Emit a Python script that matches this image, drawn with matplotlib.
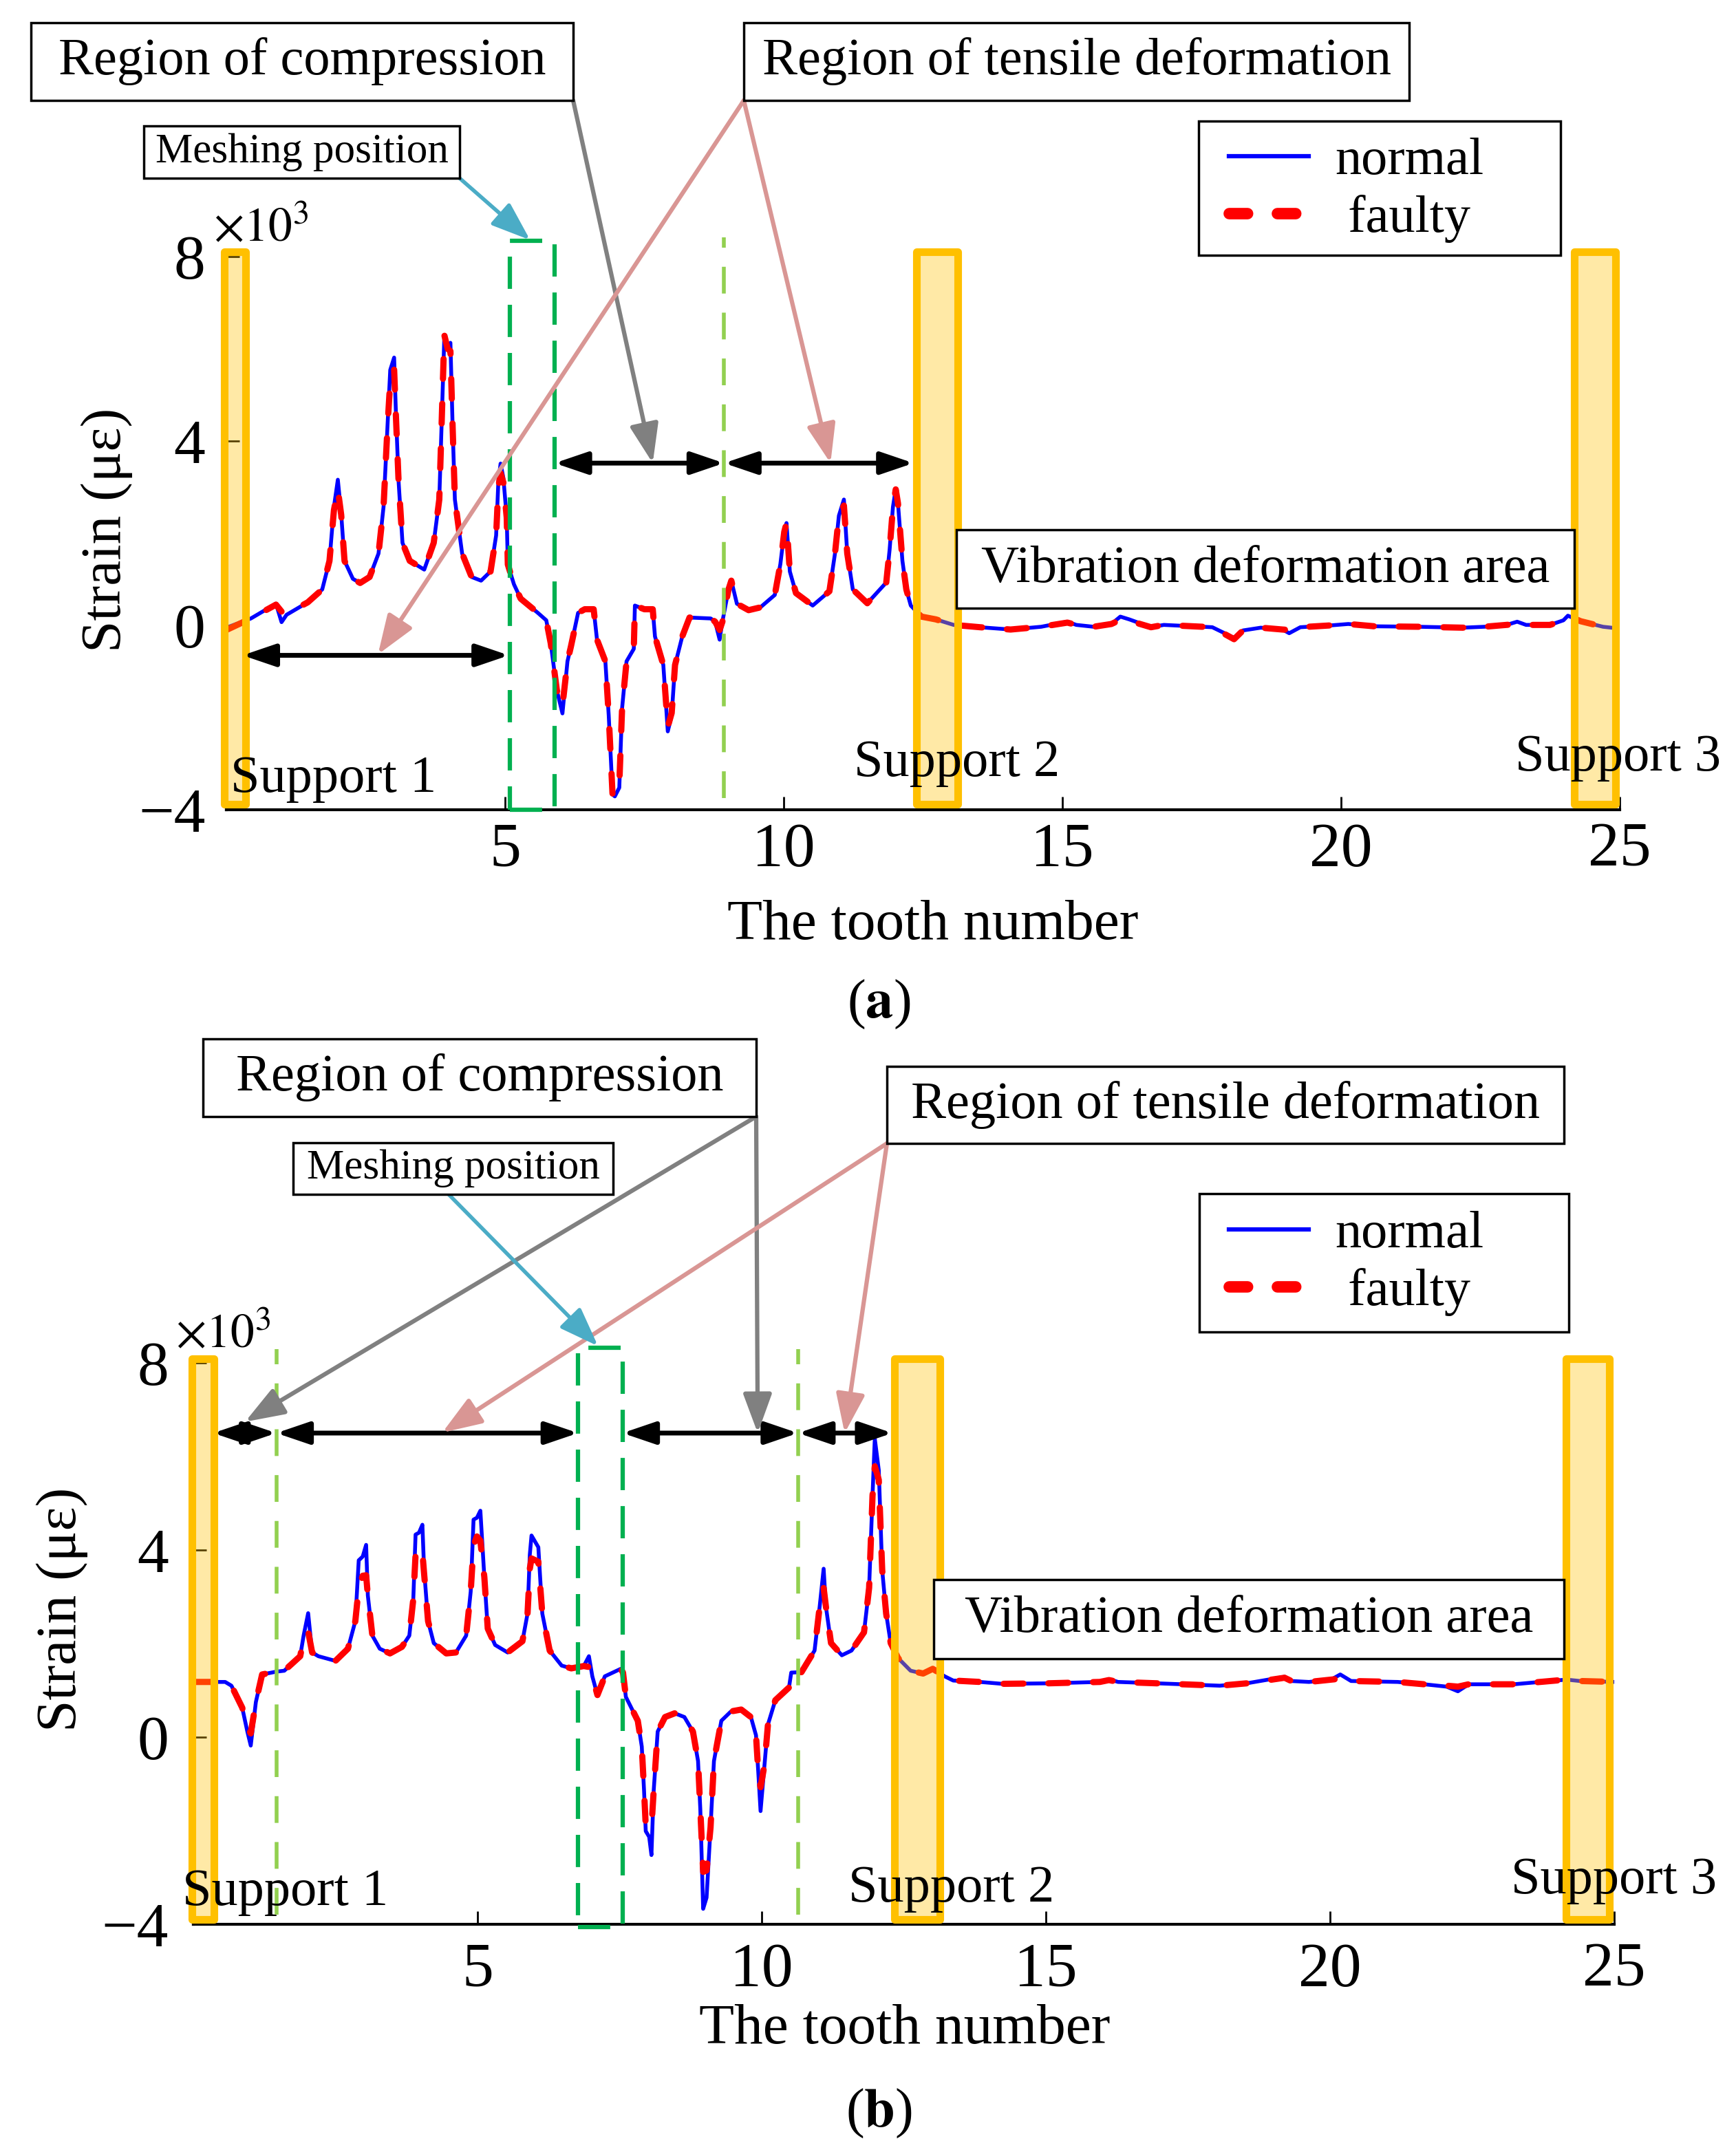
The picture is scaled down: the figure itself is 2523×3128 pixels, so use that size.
import matplotlib.pyplot as plt
from matplotlib.patches import Rectangle
from matplotlib.lines import Line2D

W, H = 2523, 3128

# panel (a): strain (x10^3) along the tooth number
tooth_a = [0.0, 0.44, 0.89, 0.99, 1.08, 1.46, 1.72, 1.85, 1.93, 2.0,
           2.06, 2.12, 2.27, 2.4, 2.57, 2.73, 2.82, 2.89, 2.94, 3.01,
           3.04, 3.09, 3.16, 3.29, 3.55, 3.72, 3.82, 3.86, 3.91, 3.97,
           4.02, 4.06, 4.1, 4.23, 4.4, 4.57, 4.74, 4.84, 4.88, 4.92,
           4.97, 5.03, 5.05, 5.16, 5.28, 5.59, 5.74, 5.82, 5.93, 6.03,
           6.12, 6.18, 6.31, 6.43, 6.59, 6.65, 6.8, 6.86, 6.93, 6.97,
           7.05, 7.1, 7.18, 7.31, 7.33, 7.5, 7.65, 7.69, 7.84, 7.92,
           7.99, 8.05, 8.18, 8.31, 8.69, 8.77, 8.85, 8.9, 9.01, 9.06,
           9.16, 9.37, 9.58, 9.84, 9.94, 10.01, 10.05, 10.11, 10.22, 10.52,
           10.82, 10.92, 10.99, 11.08, 11.14, 11.24, 11.5, 11.84, 11.9, 11.96,
           12.01, 12.05, 12.13, 12.2, 12.28, 12.47, 12.73, 13.05, 13.52, 14.07,
           14.62, 15.09, 15.25, 15.56, 15.88, 16.04, 16.2, 16.59, 16.82, 17.69,
           18.08, 18.24, 18.56, 18.95, 19.07, 19.27, 19.82, 20.13, 20.6, 21.39,
           22.18, 22.57, 22.97, 23.16, 23.32, 23.75, 23.99, 24.07, 24.3, 24.7,
           25.0]
normal_a = [-0.05, 0.15, 0.47, 0.07, 0.23, 0.5, 0.78, 1.4, 2.57, 3.16,
            2.42, 1.4, 1.01, 0.92, 1.05, 1.56, 2.57, 4.29, 5.54, 5.81,
            4.68, 3.12, 1.79, 1.4, 1.21, 1.79, 2.73, 4.29, 6.24, 6.01,
            6.13, 4.29, 2.73, 1.56, 1.05, 0.97, 1.17, 1.95, 3.12, 3.51,
            3.2, 2.34, 1.32, 0.89, 0.58, 0.27, 0.11, -0.39, -1.41, -1.91,
            -0.78, -0.47, 0.27, 0.35, 0.35, -0.31, -0.78, -1.95, -3.67, -3.71,
            -3.52, -1.8, -0.78, -0.51, 0.43, 0.35, 0.35, -0.24, -0.86, -2.3,
            -1.95, -0.86, -0.24, 0.17, 0.15, 0.08, -0.31, 0.08, 0.78, 0.97,
            0.47, 0.33, 0.39, 0.66, 1.33, 2.03, 2.22, 1.17, 0.7, 0.43,
            0.74, 1.56, 2.38, 2.73, 1.56, 0.78, 0.48, 0.93, 1.64, 2.57,
            2.96, 2.65, 1.4, 0.78, 0.43, 0.19, 0.13, 0.01, -0.04, -0.09,
            -0.03, 0.08, 0.01, -0.03, 0.03, 0.19, 0.13, -0.04, 0.01, -0.04,
            -0.27, -0.11, -0.05, -0.09, -0.17, -0.04, 0.0, 0.03, -0.02, -0.03,
            -0.05, -0.03, 0.01, 0.08, 0.01, 0.01, 0.11, 0.21, 0.09, -0.03,
            -0.07]
faulty_a = [-0.1, 0.15, 0.45, 0.3, 0.25, 0.5, 0.78, 1.4, 2.5, 2.95,
            2.4, 1.4, 1.01, 0.92, 1.05, 1.56, 2.57, 4.29, 5.3, 5.55,
            4.6, 3.12, 1.79, 1.4, 1.21, 1.79, 2.73, 4.29, 6.3, 6.0,
            5.95, 4.29, 2.73, 1.56, 1.05, 0.97, 1.17, 1.95, 3.0, 3.3,
            3.1, 2.34, 1.32, 0.89, 0.58, 0.27, 0.11, -0.39, -1.41, -1.75,
            -0.78, -0.47, 0.27, 0.35, 0.35, -0.31, -0.78, -1.95, -3.7, -3.65,
            -3.45, -1.8, -0.78, -0.51, 0.43, 0.35, 0.35, -0.24, -0.86, -2.2,
            -1.9, -0.86, -0.24, 0.17, 0.15, 0.08, -0.1, 0.08, 0.78, 0.97,
            0.47, 0.33, 0.39, 0.66, 1.33, 2.03, 2.22, 1.17, 0.7, 0.43,
            0.74, 1.56, 2.38, 2.6, 1.56, 0.78, 0.48, 0.93, 1.64, 2.57,
            2.95, 2.65, 1.4, 0.78, 0.43, 0.19, 0.13, 0.01, -0.04, -0.09,
            -0.03, 0.06, 0.01, -0.03, 0.03, 0.12, 0.1, -0.04, 0.01, -0.04,
            -0.3, -0.11, -0.05, -0.09, -0.1, -0.04, 0.0, 0.03, -0.02, -0.03,
            -0.05, -0.03, 0.01, 0.03, 0.01, 0.01, 0.11, 0.21, 0.09, -0.03,
            -0.07]

# panel (b)
tooth_b = [0.0, 0.43, 0.56, 0.67, 0.86, 0.95, 1.01, 1.1, 1.21, 1.46,
           1.6, 1.88, 1.94, 2.02, 2.09, 2.2, 2.5, 2.72, 2.85, 2.91,
           2.98, 3.04, 3.07, 3.15, 3.28, 3.46, 3.67, 3.8, 3.87, 3.91,
           3.97, 4.03, 4.06, 4.13, 4.23, 4.45, 4.62, 4.8, 4.88, 4.93,
           4.99, 5.05, 5.12, 5.18, 5.31, 5.53, 5.79, 5.88, 5.92, 5.95,
           6.07, 6.14, 6.27, 6.48, 6.65, 6.87, 6.96, 7.02, 7.11, 7.24,
           7.52, 7.56, 7.61, 7.82, 7.89, 7.93, 7.96, 8.02, 8.06, 8.1,
           8.17, 8.3, 8.47, 8.64, 8.79, 8.88, 8.92, 8.97, 9.03, 9.1,
           9.16, 9.29, 9.46, 9.64, 9.81, 9.9, 9.94, 9.98, 10.05, 10.11,
           10.24, 10.48, 10.52, 10.7, 10.93, 11.02, 11.09, 11.13, 11.22, 11.41,
           11.58, 11.8, 11.89, 11.95, 11.99, 12.06, 12.12, 12.19, 12.27, 12.4,
           12.62, 12.84, 13.01, 13.22, 13.37, 13.84, 14.23, 15.02, 15.95, 16.11,
           16.27, 16.97, 18.06, 18.53, 19.2, 19.32, 19.63, 20.02, 20.18, 20.37,
           21.19, 21.66, 22.05, 22.25, 22.44, 23.23, 23.69, 24.16, 24.4, 25.0]
normal_b = [1.18, 1.18, 1.18, 1.1, 0.63, 0.12, -0.18, 0.75, 1.34, 1.4,
            1.42, 1.73, 2.17, 2.65, 1.81, 1.73, 1.63, 1.89, 2.48, 3.78,
            3.86, 4.11, 3.03, 2.17, 1.89, 1.79, 1.93, 2.17, 2.95, 4.33,
            4.37, 4.54, 3.58, 2.48, 2.01, 1.79, 1.81, 2.17, 3.11, 4.65,
            4.69, 4.84, 3.42, 2.32, 1.97, 1.81, 2.05, 2.64, 3.9, 4.31,
            4.06, 2.64, 1.85, 1.53, 1.47, 1.52, 1.73, 1.3, 0.9, 1.3,
            1.46, 1.38, 0.86, 0.35, -0.2, -1.14, -2.01, -2.13, -2.52, -1.14,
            0.12, 0.43, 0.51, 0.43, 0.12, -0.51, -1.54, -3.67, -3.43, -1.93,
            -0.51, 0.35, 0.55, 0.59, 0.43, 0.04, -0.75, -1.58, -0.59, 0.27,
            0.79, 1.06, 1.38, 1.39, 1.85, 2.79, 3.6, 2.79, 2.01, 1.75,
            1.85, 2.24, 3.19, 5.16, 6.38, 5.71, 3.58, 2.64, 2.01, 1.69,
            1.42, 1.36, 1.46, 1.3, 1.21, 1.18, 1.14, 1.15, 1.18, 1.24,
            1.18, 1.15, 1.1, 1.15, 1.29, 1.2, 1.18, 1.23, 1.34, 1.2,
            1.18, 1.13, 1.08, 0.98, 1.13, 1.13, 1.18, 1.23, 1.2, 1.18]
faulty_b = [1.18, 1.18, 1.18, 1.1, 0.63, 0.2, 0.08, 0.75, 1.34, 1.4,
            1.42, 1.73, 2.1, 2.26, 1.81, 1.73, 1.63, 1.89, 2.48, 3.2,
            3.45, 3.46, 3.03, 2.17, 1.89, 1.79, 1.93, 2.17, 2.95, 3.9,
            4.06, 3.95, 3.5, 2.48, 2.01, 1.79, 1.81, 2.17, 3.11, 4.1,
            4.29, 4.2, 3.42, 2.32, 1.97, 1.81, 2.05, 2.64, 3.6, 3.82,
            3.75, 2.64, 1.85, 1.53, 1.47, 1.52, 1.5, 1.3, 0.9, 1.3,
            1.46, 1.38, 0.86, 0.35, -0.2, -1.14, -1.9, -1.9, -1.93, -1.14,
            0.12, 0.43, 0.51, 0.43, 0.12, -0.51, -1.54, -2.88, -2.85, -1.93,
            -0.51, 0.35, 0.55, 0.59, 0.43, 0.04, -0.75, -1.07, -0.59, 0.27,
            0.79, 1.06, 1.38, 1.39, 1.85, 2.79, 3.19, 2.79, 2.01, 1.75,
            1.85, 2.24, 3.19, 5.16, 5.79, 5.5, 3.58, 2.64, 2.01, 1.69,
            1.42, 1.36, 1.46, 1.3, 1.21, 1.18, 1.14, 1.15, 1.18, 1.22,
            1.18, 1.15, 1.1, 1.15, 1.27, 1.2, 1.18, 1.23, 1.25, 1.2,
            1.18, 1.13, 1.1, 1.08, 1.13, 1.13, 1.18, 1.23, 1.2, 1.18]

x_ticks = [5, 10, 15, 20, 25]
y_ticks = [-4, 0, 4, 8]
series_labels = ['normal', ' faulty']

plt.rcParams['font.family'] = 'Liberation Serif'
plt.rcParams['mathtext.fontset'] = 'stix'

GOLD = '#FFC000'
GREEN = '#00B050'
LGREEN = '#92D050'
GREY = '#808080'
PINK = '#D99694'
CYAN = '#4BACC6'

fig = plt.figure(figsize=(W / 100, H / 100), dpi=100)
ax1 = fig.add_axes([329 / W, 1 - 1177 / H, 2025 / W, 804 / H])
ax2 = fig.add_axes([281 / W, 1 - 2797 / H, 2065 / W, 816 / H])


def fpos(px, py):
    # reference pixel (top-left origin) -> figure fraction
    return px / W, 1 - py / H


def frame_rect(px0, py0, px1, py1, z):
    x0, y1 = fpos(px0, py0)
    x1, y0 = fpos(px1, py1)
    return Rectangle((x0, y0), x1 - x0, y1 - y0, transform=fig.transFigure,
                     fc='white', ec='black', lw=2.5, zorder=z, clip_on=False)


def fig_box(px0, py0, px1, py1, text, size):
    r = frame_rect(px0, py0, px1, py1, 8)
    fig.add_artist(r)
    x0, y0 = r.get_xy()
    fig.text(x0 + r.get_width() / 2, y0 + r.get_height() / 2, text,
             ha='center', va='center', fontsize=size, zorder=9)


def setup(ax, tooth, normal, faulty, ypad, xpad):
    ax.plot(tooth, normal, color='blue', lw=4, zorder=3)
    ax.plot(tooth, faulty, color='red', lw=6.5, dashes=(3.2, 4.0),
            dash_capstyle='round', zorder=4)
    ax.set_xlim(0, 25)
    ax.set_ylim(-4, 8)
    ax.set_xticks(x_ticks)
    ax.set_yticks(y_ticks)
    ax.tick_params(direction='in', length=14, width=2, labelsize=66)
    ax.tick_params(axis='y', pad=ypad)
    ax.tick_params(axis='x', pad=xpad)
    for s in ['top', 'right']:
        ax.spines[s].set_visible(False)
    for s in ['bottom', 'left']:
        ax.spines[s].set_linewidth(3)
    ax.set_xlabel('The tooth number', fontsize=60)
    ax.set_ylabel('Strain (με)', fontsize=60)


def legend(ax, frame, anchor):
    ax.add_artist(frame_rect(*frame, 9))
    handles = [Line2D([], [], color='blue', lw=4.5),
               Line2D([], [], color='red', lw=12, dashes=(1.6, 2.6), dash_capstyle='round')]
    leg = ax.legend(handles, series_labels, loc='upper left', frameon=False,
                    bbox_to_anchor=fpos(*anchor), bbox_transform=fig.transFigure,
                    borderaxespad=0, borderpad=0, fontsize=55, handlelength=1.52,
                    handletextpad=0.5, labelspacing=0.18)
    leg.set_zorder(10)


def support(ax, x0, x1, y0, y1):
    ax.add_patch(Rectangle((x0, y0), x1 - x0, y1 - y0, fc=(1, 0.753, 0, 0.35),
                           ec=GOLD, lw=8, joinstyle='round', clip_on=False, zorder=6))


def mesh_box(ax, x0, x1, y0, y1):
    ax.add_patch(Rectangle((x0, y0), x1 - x0, y1 - y0, fill=False, ec=GREEN, lw=4.5,
                           ls=(0, (7.5, 3.7)), clip_on=False, zorder=5))


def vline(ax, x, y0, y1):
    ax.plot([x, x], [y0, y1], color=LGREEN, lw=4, dashes=(7, 5), clip_on=False, zorder=5)


def span(ax, x0, x1, y):
    ax.annotate('', xy=(x1, y), xytext=(x0, y),
                arrowprops=dict(arrowstyle='<|-|>,head_length=0.5,head_width=0.17',
                                color='black', lw=5, mutation_scale=58,
                                shrinkA=0, shrinkB=0), zorder=7)


def pointer(ax, px, py, x, y, color, lw=4.5):
    ax.annotate('', xy=(x, y), xycoords='data', xytext=fpos(px, py),
                textcoords='figure fraction',
                arrowprops=dict(arrowstyle='-|>,head_length=0.6,head_width=0.22',
                                color=color, lw=lw, mutation_scale=58,
                                shrinkA=0, shrinkB=0), zorder=7, annotation_clip=False)


def vib_box(ax, x0, x1, y0, y1):
    ax.add_patch(Rectangle((x0, y0), x1 - x0, y1 - y0, fc='white', ec='black',
                           lw=2.5, clip_on=False, zorder=8))
    ax.text((x0 + x1) / 2, (y0 + y1) / 2, 'Vibration deformation area',
            ha='center', va='center', fontsize=55, zorder=9)


# ---------------- panel (a)
setup(ax1, tooth_a, normal_a, faulty_a, 22, 13)
ax1.yaxis.set_label_coords(-0.067, 0.506)
ax1.xaxis.set_label_coords(0.507, -0.162)
for x0, x1 in [(-0.04, 0.35), (12.38, 13.12), (24.19, 24.92)]:
    support(ax1, x0, x1, -3.88, 8.1)
mesh_box(ax1, 5.09, 5.89, -4.0, 8.34)
vline(ax1, 8.93, -3.75, 8.42)
span(ax1, 0.29, 5.07, -0.65)
span(ax1, 5.89, 8.93, 3.52)
span(ax1, 8.93, 12.33, 3.52)
vib_box(ax1, 13.1, 24.19, 0.37, 2.07)
ax1.text(0.07, -3.33, 'Support 1', fontsize=55, va='center', zorder=9)
ax1.text(11.26, -3.0, 'Support 2', fontsize=55, va='center', zorder=9)
ax1.text(23.12, -2.88, 'Support 3', fontsize=55, va='center', zorder=9, clip_on=False)

fig_box(45, 33, 833, 146, 'Region of compression', 55)
fig_box(1081, 33, 2048, 146, 'Region of tensile deformation', 55)
fig_box(209, 183, 668, 259, 'Meshing position', 44)
pointer(ax1, 833, 146, 7.65, 3.52, GREY)
pointer(ax1, 1081, 146, 2.72, -0.63, PINK)
pointer(ax1, 1081, 146, 10.84, 3.52, PINK)
pointer(ax1, 668, 259, 5.45, 8.36, CYAN, lw=4)
fig.text(*fpos(310, 350), r'$\times10^{3}$', fontsize=50, ha='left', va='baseline')
fig.text(*fpos(1277, 1460), r'($\mathbf{a}$)', fontsize=58, ha='center', va='center')
legend(ax1, (1742, 176, 2268, 371), (1786, 200))

# ---------------- panel (b)
setup(ax2, tooth_b, normal_b, faulty_b, 26, 19)
ax2.yaxis.set_label_coords(-0.074, 0.561)
ax2.xaxis.set_label_coords(0.5007, -0.142)
for x0, x1 in [(-0.03, 0.36), (12.34, 13.14), (24.15, 24.91)]:
    support(ax2, x0, x1, -3.9, 8.09)
mesh_box(ax2, 6.77, 7.55, -4.06, 8.32)
vline(ax2, 1.46, -3.8, 8.29)
vline(ax2, 10.64, -3.8, 8.29)
span(ax2, 0.35, 1.46, 6.5)
span(ax2, 1.46, 6.77, 6.5)
span(ax2, 7.55, 10.64, 6.5)
span(ax2, 10.64, 12.3, 6.5)
vib_box(ax2, 13.03, 24.12, 1.68, 3.37)
ax2.text(-0.19, -3.31, 'Support 1', fontsize=55, va='center', zorder=9, clip_on=False)
ax2.text(11.53, -3.25, 'Support 2', fontsize=55, va='center', zorder=9)
ax2.text(23.18, -3.06, 'Support 3', fontsize=55, va='center', zorder=9, clip_on=False)

fig_box(295, 1510, 1099, 1623, 'Region of compression', 55)
fig_box(1289, 1550, 2273, 1662, 'Region of tensile deformation', 55)
fig_box(426, 1661, 891, 1736, 'Meshing position', 44)
pointer(ax2, 1099, 1623, 0.91, 6.74, GREY)
pointer(ax2, 1099, 1623, 9.93, 6.5, GREY)
pointer(ax2, 1289, 1662, 4.38, 6.51, PINK)
pointer(ax2, 1289, 1662, 11.46, 6.5, PINK)
pointer(ax2, 652, 1736, 7.12, 8.36, CYAN, lw=4)
fig.text(*fpos(255, 1958), r'$\times10^{3}$', fontsize=50, ha='left', va='baseline')
fig.text(*fpos(1277, 3072), r'($\mathbf{b}$)', fontsize=58, ha='center', va='center')
legend(ax2, (1743, 1735, 2280, 1936), (1786, 1760))

fig.savefig('out.png', dpi=100, facecolor='white')
